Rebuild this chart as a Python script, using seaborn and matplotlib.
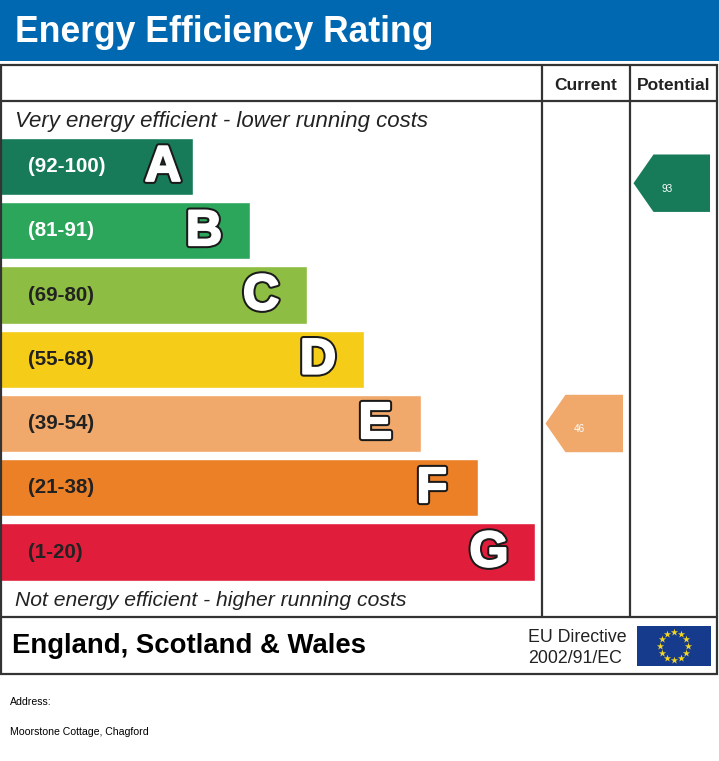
import numpy as np
import pandas as pd
import matplotlib
matplotlib.use("Agg")
import matplotlib.pyplot as plt
import matplotlib.patheffects as pe
from matplotlib.patches import Rectangle
import seaborn as sns

# rating bands, top (best) to bottom
bands = ["A", "B", "C", "D", "E", "F", "G"]
ranges = ["(92-100)", "(81-91)", "(69-80)", "(55-68)", "(39-54)", "(21-38)", "(1-20)"]
band_lo = [92, 81, 69, 55, 39, 21, 1]
band_colors = ["#177b59", "#2ca65b", "#8dbd42", "#f5cc17", "#f0a86b", "#ec8027", "#e01d3b"]
range_text_colors = ["white", "white", "#222222", "#222222", "#222222", "#222222", "#222222"]

# ratings for this property
current_score = 46
potential_score = 93

title = "Energy Efficiency Rating"
top_note = "Very energy efficient - lower running costs"
bottom_note = "Not energy efficient - higher running costs"
region = "England, Scotland & Wales"
directive = ["EU Directive", "2002/91/EC"]
address_label = "Address:"
address = "Moorstone Cottage, Chagford"

sns.set_style("white")
plt.rcParams["font.family"] = ["Liberation Sans", "DejaVu Sans"]

W, H = 719, 761
fig = plt.figure(figsize=(W / 100, H / 100), dpi=100)

# band bars (drawn underneath the frame)
row_h = 64.25
top_px = 166.5 - row_h / 2
bar_ax = fig.add_axes([0, (H - (top_px + 7 * row_h)) / H, 1, 7 * row_h / H])
bar_ax.patch.set_alpha(0)
bar_ax.set_zorder(1)

# page axes in pixel units, on top
ax = fig.add_axes([0, 0, 1, 1])
ax.set_xlim(0, W)
ax.set_ylim(H, 0)
ax.axis("off")
ax.patch.set_alpha(0)
ax.set_zorder(2)

line_c = "#333333"
ax.add_patch(Rectangle((0, 0), W, 61, color="#0067b1", lw=0))
ax.text(15, 42, title, color="white", fontsize=25.6, fontweight="bold", va="baseline")

# frame and grid
ax.add_patch(Rectangle((1, 65), 716, 609, fill=False, ec=line_c, lw=1.6))
ax.plot([1, 717], [101, 101], color=line_c, lw=1.6)
ax.plot([1, 717], [617, 617], color=line_c, lw=1.6)
col_edges = [542, 630, 717]
for xc in col_edges[:2]:
    ax.plot([xc, xc], [65, 617], color=line_c, lw=1.6)
ax.text(586, 90, "Current", fontsize=12.5, fontweight="bold", ha="center", va="baseline", color="#222222")
ax.text(674, 90, "Potential", fontsize=12.5, fontweight="bold", ha="center", va="baseline", color="#222222")

ax.text(15, 127, top_note, fontsize=16, style="italic", va="baseline", color="#222222")
ax.text(15, 606, bottom_note, fontsize=15.2, style="italic", va="baseline", color="#222222")

ax.text(12, 653, region, fontsize=19.8, fontweight="bold", va="baseline", color="black")
ax.text(528, 642, directive[0], fontsize=12.8, va="baseline", color="#222222")
ax.text(528, 663, directive[1], fontsize=12.8, va="baseline", color="#222222")

# EU flag
ax.add_patch(Rectangle((637, 626), 74, 40, color="#173b8c", lw=0))
ang = np.linspace(0, 2 * np.pi, 12, endpoint=False)
ax.scatter(674 + 14 * np.cos(ang), 646 + 14 * np.sin(ang), marker="*", s=30,
           color="#f2d622", lw=0, zorder=3)

ax.text(10, 705, address_label, fontsize=7.6, va="baseline", color="black")
ax.text(10, 735, address, fontsize=7.6, va="baseline", color="black")

df = pd.DataFrame({"band": bands, "range": ranges, "length": 193 + 57.0 * np.arange(7)})
sns.barplot(data=df, x="length", y="band", hue="band", palette=band_colors,
            orient="h", width=0.89, legend=False, ax=bar_ax, saturation=1)
bar_ax.set_xlim(0, W)
bar_ax.set_ylim(6.5, -0.5)
bar_ax.axis("off")

letter_fx = [pe.withStroke(linewidth=4.5, foreground="#1a1a1a"),
             pe.withStroke(linewidth=1.6, foreground="white"),
             pe.Normal()]
for i, row in df.iterrows():
    bar_ax.text(28, i, row["range"], fontsize=14.8, fontweight="bold",
                color=range_text_colors[i], va="center", ha="left")
    lx = max(row["length"] - 46, row["length"] - 30 if i == 0 else 0)
    bar_ax.text(lx, i + 0.02, row["band"], fontsize=36, fontweight="bold", color="white",
                ha="center", va="center", path_effects=letter_fx)


def band_of(score):
    for k, lo in enumerate(band_lo):
        if score >= lo:
            return k
    return len(band_lo) - 1


def draw_arrow(score, col, nudge):
    k = band_of(score)
    y = k + nudge
    hh = 0.447
    tip = col_edges[col] + 3.5
    right = col_edges[col + 1] - 7
    xs = [tip, tip + 20, right, right, tip + 20]
    ys = [y, y - hh, y - hh, y + hh, y + hh]
    bar_ax.fill(xs, ys, color=band_colors[k], lw=0)
    bar_ax.text((tip + right) / 2 - 4.5, y + 0.09, str(score), fontsize=7.2,
                color="white", ha="center", va="center")


draw_arrow(current_score, 0, 0.0)
draw_arrow(potential_score, 1, 0.26)

fig.savefig("out.png", dpi=100)
